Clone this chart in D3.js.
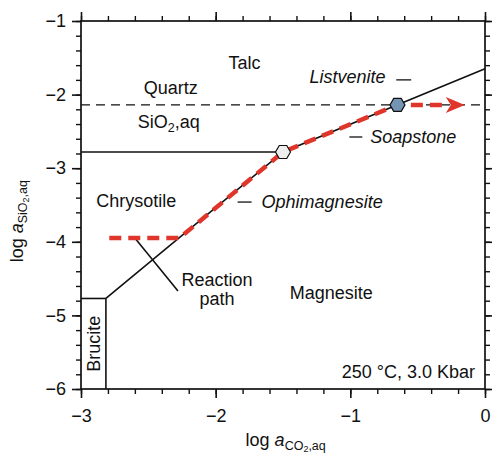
<!DOCTYPE html>
<html>
<head>
<meta charset="utf-8">
<script src="https://cdn.jsdelivr.net/npm/d3@7"></script>
<style>
  body { margin: 0; background: #fff; }
  text { font-family: "Liberation Sans", Arial, Helvetica, sans-serif; fill: #111; }
</style>
</head>
<body>
<div id="chart"></div>
<script>

// axis values
let xMajor = [-3, -2, -1, 0];
let yMajor = [-6, -5, -4, -3, -2, -1];
let xMinor = d3.range(-3, 0.001, 0.2);
let yMinor = d3.range(-6, -0.999, 0.2);

// phase boundaries (log aCO2, log aSiO2)
let talcMagnesite = [[-2.815, -4.77], [-1.5, -2.78], [0, -1.65]];
let chrysotileTalc = [[-3, -2.78], [-1.5, -2.78]];
let bruciteTop = [[-3, -4.77], [-2.815, -4.77]];
let bruciteSide = [[-2.815, -4.77], [-2.815, -6]];
let quartzSat = [[-3, -2.14], [0, -2.14]];

// reaction path (red) and pointer line
let reactionPath = [[-2.79, -3.95], [-2.27, -3.95], [-1.5, -2.78], [-0.65, -2.14], [-0.29, -2.14]];
let arrowTip = [-0.15, -2.14];
let pointer = [[-2.6, -3.95], [-2.28, -4.67]];

// invariant points
let points = [
    {x: -1.5, y: -2.78, fill: "#eeeeee"},
    {x: -0.65, y: -2.14, fill: "#7395b3"}
];

// field labels
let fieldLabels = [
    {text: "Talc", x: -1.785, y: -1.65, anchor: "middle"},
    {text: "Quartz", x: -2.333, y: -1.99, anchor: "middle"},
    {text: "Chrysotile", x: -2.59, y: -3.53, anchor: "middle"},
    {text: "Magnesite", x: -1.141, y: -4.777, anchor: "middle"},
    {text: "Reaction", x: -1.99, y: -4.6, anchor: "middle"},
    {text: "path", x: -1.99, y: -4.86, anchor: "middle"}
];

// rock names with tick dash
let rockLabels = [
    {text: "Listvenite", x: -1.304, y: -1.842, dash: [-0.659, -0.548], dashY: -1.80},
    {text: "Soapstone", x: -0.852, y: -2.658, dash: [-1.007, -0.911], dashY: -2.576},
    {text: "Ophimagnesite", x: -1.659, y: -3.54, dash: [-1.837, -1.733], dashY: -3.46}
];

const width = 492, height = 455;
const margin = {top: 21, right: 7, bottom: 66, left: 81};
const fs = "18px", sub = "12.5px", sub2 = "9px";

let svg = d3.select("#chart")
            .append("svg")
                .attr("width", width)
                .attr("height", height);

let x = d3.scaleLinear().domain([-3, 0]).range([margin.left, width - margin.right]);
let y = d3.scaleLinear().domain([-6, -1]).range([height - margin.bottom, margin.top]);

let line = d3.line().x(d => x(d[0])).y(d => y(d[1]));
let fmt = d3.format("d");

// axes: minor ticks then major ticks, all pointing out
function addAxis(axisFn, scale, minor, major, transform, pad) {
    svg.append("g").attr("transform", transform)
        .call(axisFn(scale).tickValues(minor).tickSize(5).tickSizeOuter(0).tickFormat(""))
        .call(g => g.select(".domain").remove())
        .selectAll("line").attr("stroke", "#111").attr("stroke-width", 1.4);
    let g = svg.append("g").attr("transform", transform)
        .call(axisFn(scale).tickValues(major).tickSize(9).tickSizeOuter(0).tickPadding(pad).tickFormat(fmt));
    g.select(".domain").remove();
    g.selectAll("line").attr("stroke", "#111").attr("stroke-width", 1.6);
    g.selectAll("text").style("font-size", fs).attr("fill", "#111")
        .style("font-family", "'Liberation Sans', Arial, sans-serif");
    return g;
}

addAxis(d3.axisBottom, x, xMinor, xMajor, `translate(0,${y(-6)})`, 11);
addAxis(d3.axisLeft, y, yMinor, yMajor, `translate(${x(-3)},0)`, 6);
addAxis(d3.axisTop, x, xMinor, xMajor, `translate(0,${y(-1)})`, 4).selectAll("text").remove();
addAxis(d3.axisRight, y, yMinor, yMajor, `translate(${x(0)},0)`, 4).selectAll("text").remove();

// frame
svg.append("rect")
    .attr("x", x(-3)).attr("y", y(-1))
    .attr("width", x(0) - x(-3)).attr("height", y(-6) - y(-1))
    .attr("fill", "none").attr("stroke", "#111").attr("stroke-width", 1.7);

// boundaries
let bounds = svg.append("g").attr("fill", "none").attr("stroke", "#111").attr("stroke-width", 1.6);
[talcMagnesite, chrysotileTalc, bruciteTop, bruciteSide].forEach(d => {
    bounds.append("path").attr("d", line(d));
});
bounds.append("path").attr("d", line(quartzSat)).attr("stroke-width", 1.3).attr("stroke-dasharray", "9,6");
bounds.append("path").attr("d", line(pointer));

// reaction path
svg.append("path")
    .attr("d", line(reactionPath))
    .attr("fill", "none")
    .attr("stroke", "#e0352a")
    .attr("stroke-width", 4.5)
    .attr("stroke-dasharray", "12,7");

let tx = x(arrowTip[0]), ty = y(arrowTip[1]);
svg.append("path")
    .attr("d", `M${tx},${ty} L${tx - 19},${ty - 8} L${tx - 14},${ty} L${tx - 19},${ty + 8} Z`)
    .attr("fill", "#e0352a");

// invariant points as hexagons
let hex = r => d3.range(6).map(i => [r * Math.cos(i * Math.PI / 3), r * Math.sin(i * Math.PI / 3)]);
svg.selectAll(".pt").data(points).enter()
    .append("path")
        .attr("class", "pt")
        .attr("d", "M" + hex(7.5).join("L") + "Z")
        .attr("transform", d => `translate(${x(d.x)},${y(d.y)})`)
        .attr("fill", d => d.fill)
        .attr("stroke", "#111")
        .attr("stroke-width", 1.2);

// labels
svg.selectAll(".field").data(fieldLabels).enter()
    .append("text")
        .attr("x", d => x(d.x)).attr("y", d => y(d.y))
        .attr("text-anchor", d => d.anchor)
        .style("font-size", fs)
        .text(d => d.text);

svg.selectAll(".rock").data(rockLabels).enter()
    .append("text")
        .attr("x", d => x(d.x)).attr("y", d => y(d.y))
        .style("font-size", fs)
        .style("font-style", "italic")
        .text(d => d.text);

svg.selectAll(".rockdash").data(rockLabels).enter()
    .append("line")
        .attr("x1", d => x(d.dash[0])).attr("x2", d => x(d.dash[1]))
        .attr("y1", d => y(d.dashY)).attr("y2", d => y(d.dashY))
        .attr("stroke", "#111").attr("stroke-width", 1.3);

// SiO2,aq label
let sio = svg.append("text").attr("x", x(-2.578)).attr("y", y(-2.45)).style("font-size", fs);
sio.append("tspan").text("SiO");
sio.append("tspan").text("2").style("font-size", sub).attr("dy", 4);
sio.append("tspan").text(",aq").attr("dy", -4);

// Brucite (vertical)
svg.append("text")
    .attr("transform", `translate(${x(-2.91)},${(y(-4.77) + y(-6)) / 2}) rotate(-90)`)
    .attr("text-anchor", "middle")
    .attr("dy", "0.36em")
    .style("font-size", fs)
    .text("Brucite");

// conditions
svg.append("text")
    .attr("x", x(-0.074)).attr("y", y(-5.85))
    .attr("text-anchor", "end")
    .style("font-size", fs)
    .text("250 °C, 3.0 Kbar");

// axis titles
let xt = svg.append("text").attr("x", x(-1.48)).attr("y", 446)
    .attr("text-anchor", "middle").style("font-size", fs);
xt.append("tspan").text("log ");
xt.append("tspan").text("a").style("font-style", "italic");
xt.append("tspan").text("CO").style("font-size", sub).attr("dy", 4);
xt.append("tspan").text("2").style("font-size", sub2).attr("dy", 2);
xt.append("tspan").text(",aq").style("font-size", sub).attr("dy", -2);

let yt = svg.append("text")
    .attr("transform", `translate(23,${y(-3.72)}) rotate(-90)`)
    .attr("text-anchor", "middle").style("font-size", fs);
yt.append("tspan").text("log ");
yt.append("tspan").text("a").style("font-style", "italic");
yt.append("tspan").text("SiO").style("font-size", sub).attr("dy", 4);
yt.append("tspan").text("2").style("font-size", sub2).attr("dy", 2);
yt.append("tspan").text(",aq").style("font-size", sub).attr("dy", -2);

</script>
</body>
</html>
